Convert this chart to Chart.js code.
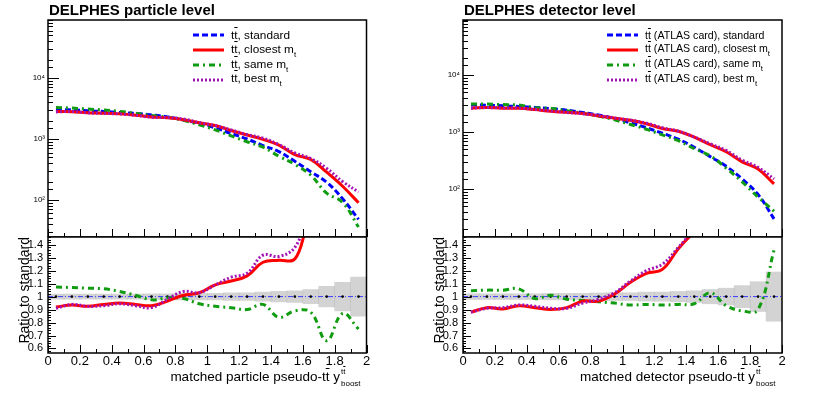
<!DOCTYPE html>
<html lang="en">
<head>
<meta charset="UTF-8">
<title>DELPHES pseudo-top boost</title>
<script src="https://cdn.jsdelivr.net/npm/chart.js@4.4.1/dist/chart.umd.min.js"></script>
<style>
	body,html{margin:0;padding:0;background:#fff;}
	#wrap{position:relative;width:830px;height:397px;overflow:hidden;font-family:"Liberation Sans",Arial,sans-serif;color:#000;}
	canvas{position:absolute;}
	.ttl{position:absolute;top:1px;font-weight:bold;font-size:15px;line-height:17px;white-space:nowrap;}
	.leg{position:absolute;top:28px;}
	.leg .row{display:flex;align-items:center;height:14.8px;white-space:nowrap;}
	.leg svg{flex:none;}
	.xt{position:absolute;top:369px;font-size:13.5px;line-height:16px;white-space:nowrap;}
	.ov{text-decoration:overline;}
	.ss{position:relative;display:inline-block;width:27px;height:0;}
	.sp,.sb{position:absolute;left:1px;font-size:8px;line-height:8px;}
	.sp{top:-13px;}
	.sb{top:-1px;}
	.mt sub{font-size:8px;vertical-align:-4px;}
</style>
</head>
<body>
<div id="wrap">
	<canvas id="topP" width="415" height="237" style="left:0;top:0"></canvas>
	<canvas id="ratP" width="415" height="167" style="left:0;top:230px"></canvas>
	<canvas id="topD" width="415" height="237" style="left:415px;top:0"></canvas>
	<canvas id="ratD" width="415" height="167" style="left:415px;top:230px"></canvas>

	<div class="ttl" style="left:49px">DELPHES particle level</div>
	<div class="ttl" style="left:464px">DELPHES detector level</div>

	<div class="leg" id="legP" style="left:193px;font-size:11.8px"></div>
	<div class="leg" id="legD" style="left:607px;font-size:10.6px"></div>

	<div class="xt" style="right:463px">matched particle pseudo-t<span class="ov">t</span> y<span class="ss"><span class="sp">t<span class="ov">t</span></span><span class="sb">boost</span></span></div>
	<div class="xt" style="right:48px">matched detector pseudo-t<span class="ov">t</span> y<span class="ss"><span class="sp">t<span class="ov">t</span></span><span class="sb">boost</span></span></div>
</div>
<script>
// bin centres of y_boost (bin width 0.1)
var binX = [0.05,0.15,0.25,0.35,0.45,0.55,0.65,0.75,0.85,0.95,1.05,1.15,1.25,1.35,1.45,1.55,1.65,1.75,1.85,1.95];
var xMin = 0, xMax = 2;

// particle level, events per bin
var stdP     = [3050,3000,2900,2820,2720,2620,2480,2300,2050,1800,1520,1230,1000,780,620,430,290,195,105,48];
var closestP = [2810,2800,2690,2650,2580,2460,2300,2220,2070,1850,1660,1380,1160,987,794,555,460,285,168,90];
var sameP    = [3280,3210,3090,2990,2830,2650,2420,2280,2030,1700,1410,1125,900,733,521,383,255,129,91,36];
var bestP    = [2775,2820,2680,2620,2570,2440,2270,2250,2130,1850,1660,1410,1180,1030,810,590,480,330,200,135];
// particle level, ratio to standard
var rClosestP = [0.92,0.935,0.925,0.94,0.95,0.94,0.93,0.965,1.01,1.03,1.09,1.12,1.16,1.265,1.28,1.29,1.58,1.55,1.62,1.85];
var rSameP    = [1.075,1.07,1.065,1.06,1.04,1.01,0.975,0.99,0.985,0.945,0.925,0.915,0.9,0.94,0.84,0.89,0.88,0.66,0.87,0.75];
var rBestP    = [0.91,0.94,0.925,0.93,0.945,0.93,0.915,0.98,1.04,1.03,1.09,1.15,1.18,1.32,1.31,1.38,1.65,1.7,1.9,2.8];
var errP      = [0.02,0.02,0.02,0.02,0.02,0.02,0.022,0.022,0.025,0.025,0.025,0.03,0.03,0.035,0.04,0.045,0.055,0.08,0.11,0.15];

// detector level (ATLAS card), events per bin
var stdD     = [2980,2950,2880,2800,2700,2570,2420,2200,1980,1720,1450,1190,950,750,540,370,250,150,80,30];
var closestD = [2620,2700,2610,2600,2470,2310,2210,2120,1910,1750,1610,1400,1150,1030,810,600,450,300,224,123];
var sameD    = [3114,3098,3024,2968,2660,2596,2372,2134,1901,1634,1356,1119,888,705,510,381,233,134,72,41];
var bestD    = [2620,2680,2635,2620,2500,2340,2200,2090,1940,1770,1620,1430,1190,1035,820,620,475,322,240,150];
// detector level, ratio to standard
var rClosestD = [0.88,0.915,0.905,0.93,0.915,0.90,0.915,0.965,0.965,1.02,1.11,1.18,1.21,1.37,1.5,1.62,1.8,2.0,2.8,4.1];
var rSameD    = [1.045,1.05,1.05,1.06,0.985,1.01,0.98,0.97,0.96,0.95,0.935,0.94,0.935,0.94,0.945,1.03,0.93,0.89,0.9,1.36];
var rBestD    = [0.88,0.91,0.915,0.935,0.925,0.91,0.91,0.95,0.98,1.03,1.12,1.2,1.25,1.38,1.52,1.68,1.9,2.15,3.0,5.0];
var errD      = [0.022,0.022,0.022,0.022,0.022,0.025,0.025,0.025,0.028,0.03,0.03,0.035,0.035,0.04,0.045,0.055,0.065,0.085,0.115,0.19];

// axis ranges
var logRangeP = [24.7, 89300];
var logRangeD = [14.4, 92200];
var ratioRange = [0.565, 1.46];

var legendP = [', standard',', closest m<sub>t</sub>',', same m<sub>t</sub>',', best m<sub>t</sub>'];
var legendD = [' (ATLAS card), standard',' (ATLAS card), closest m<sub>t</sub>',' (ATLAS card), same m<sub>t</sub>',' (ATLAS card), best m<sub>t</sub>'];

var sty = [
	{color:'#0000ff', dash:[6,3]},
	{color:'#ff0000', dash:[]},
	{color:'#109c10', dash:[6,4,2,4]},
	{color:'#a413b4', dash:[2,2]}
];

// inward tick length (px) per axis id, ROOT style
var tickLen = {x:8, xm:4, y:5, ym:11};
var tickLenRatio = {x:8, xm:4, y:8, ym:3};

Chart.defaults.font.family = '"Liberation Sans", Arial, sans-serif';
Chart.defaults.color = '#000';

// frame box plus inward tick marks at the scales' own ticks
function framePlugin(lens){
	return {
		id:'frame',
		afterDatasetsDraw:function(chart){
			var a = chart.chartArea, c = chart.ctx;
			c.save();
			c.strokeStyle = '#000';
			c.lineWidth = 1;
			c.beginPath();
			Object.keys(chart.scales).forEach(function(id){
				var s = chart.scales[id], len = lens[id];
				if (!len) return;
				s.ticks.forEach(function(t){
					var p = Math.round(s.getPixelForValue(t.value)) + 0.5;
					if (s.isHorizontal()) { c.moveTo(p, a.bottom); c.lineTo(p, a.bottom - len); }
					else { c.moveTo(a.left, p); c.lineTo(a.left + len, p); }
				});
			});
			c.stroke();
			c.lineWidth = 1.5;
			c.strokeRect(a.left, a.top, a.right-a.left, a.bottom-a.top);
			c.restore();
		}
	};
}

// fixed axis sizes, no extra label margins
function fixSize(w, h){
	return function(s){
		if (w !== null) s.width = w;
		if (h !== null) s.height = h;
		s.paddingTop = s.paddingBottom = s.paddingLeft = s.paddingRight = 0;
	};
}
var noGrid = {display:false, drawTicks:false, tickLength:0};

function pts(vals){
	return binX.map(function(x,i){ return {x:x, y:vals[i]}; });
}
function curve(vals, s, order){
	return {type:'line', data:pts(vals), yAxisID:'y', borderColor:s.color, borderDash:s.dash,
		borderWidth:3, pointRadius:0, tension:0.4, fill:false, order:order};
}
function isDecade(v){ var e = Math.log10(v); return Math.abs(e-Math.round(e)) < 1e-6; }
var supDigits = {1:'¹',2:'²',3:'³',4:'⁴',5:'⁵'};
function num(v){ return String(+(+v).toFixed(2)); }

function xAxes(labels){
	return {
		xm:{type:'linear', min:xMin, max:xMax, offset:false, position:'bottom', weight:0,
			afterFit:fixSize(null, 0),
			ticks:{display:false, stepSize:0.1, autoSkip:false},
			grid:noGrid, border:{display:false}},
		x:{type:'linear', min:xMin, max:xMax, offset:false, position:'bottom', weight:1,
			afterFit:fixSize(null, labels ? 44 : 0),
			ticks:{display:labels, stepSize:0.2, autoSkip:false, maxRotation:0, padding:1,
				font:{size:13}, callback:num},
			grid:noGrid, border:{display:false}}
	};
}

function topChart(id, range, sets, padR){
	var sc = xAxes(false);
	sc.ym = {type:'logarithmic', min:range[0], max:range[1], position:'left', weight:0,
		afterFit:fixSize(0, null),
		afterBuildTicks:function(s){ s.ticks = s.ticks.filter(function(t){ return isDecade(t.value); }); },
		ticks:{display:false, autoSkip:false},
		grid:noGrid, border:{display:false}};
	sc.y = {type:'logarithmic', min:range[0], max:range[1], position:'left', weight:1,
		afterFit:fixSize(48, null),
		ticks:{autoSkip:false, padding:3, font:{size:8},
			callback:function(v){ return isDecade(v) ? '10' + supDigits[Math.round(Math.log10(v))] : ''; }},
		grid:noGrid, border:{display:false}};
	return new Chart(document.getElementById(id), {
		type:'line',
		data:{datasets:[
			curve(sets[0], sty[0], 4),
			curve(sets[1], sty[1], 2),
			curve(sets[2], sty[2], 3),
			curve(sets[3], sty[3], 1)
		]},
		options:{responsive:false, animation:false, devicePixelRatio:1,
			layout:{padding:{top:20, right:padR, left:0, bottom:0}},
			plugins:{legend:{display:false}, tooltip:{enabled:false}},
			scales:sc},
		plugins:[framePlugin(tickLen)]
	});
}

function ratioChart(id, sets, err, padR){
	var sc = xAxes(true);
	sc.ym = {type:'linear', min:ratioRange[0], max:ratioRange[1], position:'left', weight:0,
		afterFit:fixSize(0, null),
		ticks:{display:false, stepSize:0.02, autoSkip:false, includeBounds:false},
		grid:noGrid, border:{display:false}};
	sc.y = {type:'linear', min:ratioRange[0], max:ratioRange[1], position:'left', weight:1,
		afterFit:fixSize(48, null),
		ticks:{stepSize:0.1, autoSkip:false, includeBounds:false, padding:5, font:{size:11}, callback:num},
		grid:noGrid, border:{display:false},
		title:{display:true, text:'Ratio to standard', align:'end', font:{size:14}, padding:{top:17, bottom:0}}};
	var band = {type:'bar', yAxisID:'y', order:10,
		data:binX.map(function(x,i){ return {x:x, y:[1-err[i], 1+err[i]]}; }),
		backgroundColor:'rgba(175,175,175,0.55)', borderWidth:0,
		barPercentage:1, categoryPercentage:1, grouped:false};
	var unit = [{x:xMin, y:1}].concat(binX.map(function(x){ return {x:x, y:1}; }), [{x:xMax, y:1}]);
	var stdLine = {type:'line', yAxisID:'y', order:5, data:unit, borderColor:'#3a3aff', borderWidth:1,
		borderDash:[5,2,1,2], tension:0, fill:false,
		pointRadius:function(c){ return (c.dataIndex === 0 || c.dataIndex === unit.length-1) ? 0 : 1.3; },
		pointBackgroundColor:'#000', pointBorderWidth:0};
	return new Chart(document.getElementById(id), {
		type:'line',
		data:{datasets:[
			band, stdLine,
			curve(sets[0], sty[1], 2),
			curve(sets[1], sty[2], 3),
			curve(sets[2], sty[3], 1)
		]},
		options:{responsive:false, animation:false, devicePixelRatio:1,
			layout:{padding:{top:7, right:padR, left:0, bottom:0}},
			plugins:{legend:{display:false}, tooltip:{enabled:false}},
			scales:sc},
		plugins:[framePlugin(tickLenRatio)]
	});
}

function buildLegend(id, texts){
	var el = document.getElementById(id);
	texts.forEach(function(t, i){
		var s = sty[i];
		var row = document.createElement('div');
		row.className = 'row mt';
		row.innerHTML = '<svg width="31" height="8"><line x1="0" y1="4" x2="31" y2="4" stroke="' + s.color +
			'" stroke-width="3" stroke-dasharray="' + (s.dash.length ? s.dash.join(',') : 'none') + '"/></svg>' +
			'<span style="margin-left:7px">t<span class="ov">t</span>' + t + '</span>';
		el.appendChild(row);
	});
}

topChart('topP', logRangeP, [stdP, closestP, sameP, bestP], 48.5);
topChart('topD', logRangeD, [stdD, closestD, sameD, bestD], 48);
ratioChart('ratP', [rClosestP, rSameP, rBestP], errP, 48.5);
ratioChart('ratD', [rClosestD, rSameD, rBestD], errD, 48);
buildLegend('legP', legendP);
buildLegend('legD', legendD);
</script>
</body>
</html>
